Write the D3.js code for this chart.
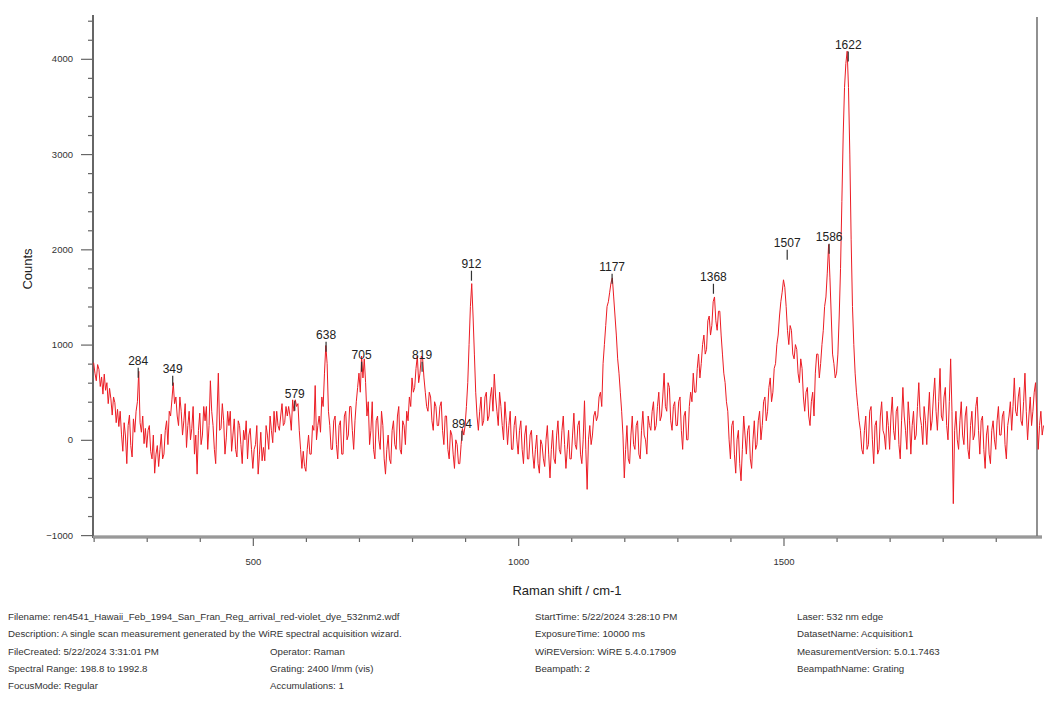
<!DOCTYPE html>
<html>
<head>
<meta charset="utf-8">
<script src="https://cdn.jsdelivr.net/npm/d3@7"></script>
<style>
  body { margin: 0; background: #fff; }
  svg { font-family: "Liberation Sans", Arial, sans-serif; }
  .axis path, .axis line { stroke: #666; }
  .axis text { fill: #333; font-size: 9.5px; }
  .axis-label { fill: #222; font-size: 13px; }
  .peak-label { fill: #222; font-size: 12px; }
  .info { fill: #333; font-size: 9.7px; }
</style>
</head>
<body>
<div id="chart"></div>
<script>

// Raman shift grid (cm-1): first point and spacing
var shiftStart = 200;
var shiftStep = 2.5;

// Counts, one value every 2.5 cm-1 from 200 to 1990
var counts = [
  810, 700, 620, 790, 740, 560, 660, 480, 690, 520, 600, 380, 540, 430, 260, 450, 390, 180, 320, 140,                  // 200
  300, 60, -120, 180, 40, -250, 150, 260, -60, -180, 220, 80, 300, 400, 720, 180, 80, 250, -40, 120,                    // 250
  -80, 100, 150, -120, -200, 50, -350, -150, -60, -280, -100, 60, -200, -150, 100, 200, -50, 300, 250, 420,             // 300
  600, 380, 450, 250, 150, 450, 300, 50, 200, 380, -80, 150, 300, 0, 120, 350, -150, 50, -360, 100,                     // 350
  280, -50, 50, 350, 200, 350, -100, 150, 620, 300, 150, -100, -250, 250, 700, 100, 120, 380, 200, -150,               // 400
  20, 300, 150, 300, -120, 50, 220, -100, -180, 200, 150, -50, -250, 100, 0, 200, -200, 50, 120, -100,                  // 450
  -300, -100, -50, 150, -360, -150, 80, -220, -80, -220, 150, 50, -100, 250, 100, -30, 300, 80, 300, 150,               // 500
  100, 250, 380, 150, 180, 350, 250, 350, 250, 100, 420, 300, 420, 350, 380, 100, -100, -300, -120, -280,               // 550
  -330, -100, 50, -150, -150, 150, 100, 570, 0, 150, 250, 80, 450, 350, 700, 990, 800, 300, 150, -100,                  // 600
  -100, 200, 250, -50, -200, 150, 200, -150, -150, 250, 300, 0, 50, 350, 350, 100, -100, 200, 400, 550,                 // 650
  700, 500, 880, 650, 850, 600, 250, 400, -50, 100, 400, -100, -200, 200, 250, 0, -100, 300, 150, -200,                 // 700
  -360, -100, 50, -200, -250, 100, 200, -50, -100, 250, 350, -100, -150, 200, 150, -50, 300, 200, 450, 350,             // 750
  650, 500, 550, 750, 880, 600, 700, 880, 850, 650, 500, 350, 300, 500, 450, 200, 100, 400, 350, 150,                   // 800
  150, 350, 400, 100, -50, 250, 250, -100, -200, 100, 50, -150, -300, 0, -50, -250, -250, -50, 120, 50,                 // 850
  150, 350, 600, 1000, 1400, 1640, 1300, 900, 500, 250, 100, 300, 450, 150, 200, 450, 500, 200, 250, 450,               // 900
  550, 300, 690, 450, 300, 150, 500, 350, 150, 0, 400, 200, -50, 150, 300, -100, -100, 150, 250, 0,                     // 950
  -150, 100, 200, -100, -250, 50, 150, -200, -200, 50, 100, -150, -300, -100, 50, -250, -350, 0, -50, -200,             // 1000
  -280, 0, 150, -150, -400, -100, 100, -200, -250, 50, 200, -100, -150, 100, 250, -50, -300, -100, 100, -200,           // 1050
  -200, 50, 280, -50, -100, 150, 200, -150, -250, 0, 410, -100, -520, 0, 150, -50, 50, 250, 300, 200,                   // 1100
  250, 450, 500, 350, 800, 1000, 1200, 1400, 1450, 1550, 1650, 1700, 1500, 1300, 1100, 850, 700, 500, 300, 50,          // 1150
  -400, -100, 150, -200, -250, 50, 250, -50, -100, 150, 200, -150, -200, 100, 300, 50, 0, -150, 250, 150,               // 1200
  100, 300, 400, 100, 150, 350, 500, 200, 250, 450, 700, 350, 300, 600, 550, 200, 100, 350, 400, 150,                   // 1250
  150, 400, 450, 100, -100, 250, 300, 0, 0, 350, 500, 400, 700, 500, 500, 750, 900, 650, 800, 1000,                     // 1300
  1100, 900, 950, 1250, 1300, 1100, 1200, 1450, 1500, 1250, 1150, 1350, 1350, 1100, 900, 700, 600, 400, 300, 0,         // 1350
  -200, 150, 200, -150, -350, 0, 100, -250, -430, -100, 250, 50, -150, 100, 150, -200, -300, 0, 200, -100,              // 1400
  -50, 200, 300, 0, 150, 400, 450, 200, 300, 550, 650, 400, 500, 750, 800, 1000, 1100, 1300, 1450, 1550,                // 1450
  1680, 1600, 1400, 1150, 1000, 1200, 1150, 900, 850, 1000, 950, 700, 600, 850, 750, 450, 300, 500, 550, 250,           // 1500
  150, 400, 500, 250, 700, 900, 900, 650, 800, 1000, 1150, 1400, 1500, 1750, 2050, 1700, 1300, 900, 800, 650,           // 1550
  700, 900, 1300, 1800, 2500, 3200, 3700, 3950, 4080, 3700, 3000, 2100, 1400, 1000, 700, 500, 350, 200, 100, -100,      // 1600
  -150, 100, 250, -100, -50, 300, 350, 0, -250, 150, 200, -150, -100, 250, 400, 100, 50, -100, 300, 150,                // 1650
  -100, 250, 450, 100, 0, 300, 350, -50, -200, 200, 550, 250, 100, -100, 400, 200, -150, 150, 300, 0,                   // 1700
  50, 350, 600, 250, 150, -50, 350, 200, -50, 250, 500, 100, 200, 450, 650, 300, 100, 400, 750, 250,                    // 1750
  200, 450, 550, 150, 0, 400, 850, 300, -670, 100, 300, 0, -100, 200, 400, 50, -50, 250, 350, -100,                     // 1800
  -200, 150, 300, 0, 50, 350, 450, 100, -150, 200, 250, -100, -300, 50, 150, -150, -250, 100, 200, 0,                   // 1850
  -100, 200, 350, 50, 50, 250, 300, -50, -200, 150, 250, 400, 100, 350, 650, 300, 250, 450, 550, 200,                   // 1900
  150, 400, 700, 300, 0, 250, 450, 150, 300, 500, 600, 250, -100, 150, 300, 50, 150                                     // 1950-1990
];

// Labelled peaks and the height (counts) at which each label sits
var peakShifts = [284, 349, 579, 638, 705, 819, 894, 912, 1177, 1368, 1507, 1586, 1622];
var peakLabelCounts = [830, 746, 483, 1103, 893, 893, 168, 1849, 1817, 1712, 2069, 2132, 4149];

// Axis ticks
var xMajorTicks = [500, 1000, 1500];
var yMajorTicks = [-1000, 0, 1000, 2000, 3000, 4000];

// Acquisition info printed under the chart
var infoCol1 = [
  "Filename: ren4541_Hawaii_Feb_1994_San_Fran_Reg_arrival_red-violet_dye_532nm2.wdf",
  "Description: A single scan measurement generated by the WiRE spectral acquisition wizard.",
  "FileCreated: 5/22/2024 3:31:01 PM",
  "Spectral Range: 198.8 to 1992.8",
  "FocusMode: Regular"
];
var infoCol2 = ["", "", "Operator: Raman", "Grating: 2400 l/mm (vis)", "Accumulations: 1"];
var infoCol3 = ["StartTime: 5/22/2024 3:28:10 PM", "ExposureTime: 10000 ms", "WiREVersion: WiRE 5.4.0.17909", "Beampath: 2"];
var infoCol4 = ["Laser: 532 nm edge", "DatasetName: Acquisition1", "MeasurementVersion: 5.0.1.7463", "BeampathName: Grating"];


SpectrumChart = function(_parentElement){
  var vis = this;
  vis.parentElement = _parentElement;
  vis.data = counts.map(function(c, i){
    return { shift: shiftStart + i * shiftStep, counts: c };
  });
  vis.initVis();
};

SpectrumChart.prototype.initVis = function(){
  var vis = this;

  vis.width = 1053;
  vis.height = 704;
  vis.plot = { left: 93, right: 1045, top: 15, bottom: 537 };

  vis.svg = d3.select("#" + vis.parentElement).append("svg")
    .attr("width", vis.width)
    .attr("height", vis.height);

  vis.x = d3.scaleLinear()
    .domain([198.8, 1992.8])
    .range([vis.plot.left, vis.plot.right]);

  vis.y = d3.scaleLinear()
    .domain([-1020, 4460])
    .range([vis.plot.bottom, vis.plot.top]);

  vis.updateVis();
};

SpectrumChart.prototype.updateVis = function(){
  var vis = this;
  var p = vis.plot;

  // minor ticks first, major ticks with labels on top
  var xMinor = d3.range(200, 2000, 100).filter(function(d){ return d % 500 !== 0; });
  var yMinor = d3.range(-800, 4500, 200).filter(function(d){ return d % 1000 !== 0; });

  vis.svg.append("g")
    .attr("class", "axis")
    .attr("transform", "translate(0," + p.bottom + ")")
    .call(d3.axisBottom(vis.x).tickValues(xMinor).tickSize(5).tickFormat(""))
    .select(".domain").remove();

  vis.svg.append("g")
    .attr("class", "axis x-axis")
    .attr("transform", "translate(0," + p.bottom + ")")
    .call(d3.axisBottom(vis.x).tickValues(xMajorTicks).tickSize(9).tickPadding(12).tickFormat(d3.format("d")))
    .select(".domain").remove();

  vis.svg.append("g")
    .attr("class", "axis")
    .attr("transform", "translate(" + p.left + ",0)")
    .call(d3.axisLeft(vis.y).tickValues(yMinor).tickSize(5).tickFormat(""))
    .select(".domain").remove();

  vis.svg.append("g")
    .attr("class", "axis y-axis")
    .attr("transform", "translate(" + p.left + ",0)")
    .call(d3.axisLeft(vis.y).tickValues(yMajorTicks).tickSize(12).tickPadding(8).tickFormat(d3.format("d")))
    .select(".domain").remove();

  vis.svg.selectAll(".axis line").attr("stroke-width", 1.2);

  // frame lines
  vis.svg.append("line")
    .attr("x1", p.left).attr("x2", p.left)
    .attr("y1", p.top).attr("y2", p.bottom + 1)
    .attr("stroke", "#666").attr("stroke-width", 2);

  vis.svg.append("line")
    .attr("x1", p.right - 8).attr("x2", p.right - 8)
    .attr("y1", p.top + 2).attr("y2", p.bottom)
    .attr("stroke", "#555").attr("stroke-width", 1.3);

  vis.svg.append("line")
    .attr("x1", p.left).attr("x2", p.right - 3)
    .attr("y1", p.bottom).attr("y2", p.bottom)
    .attr("stroke", "#777").attr("stroke-width", 3);

  vis.svg.append("line")
    .attr("x1", p.left).attr("x2", p.right - 3)
    .attr("y1", p.bottom).attr("y2", p.bottom)
    .attr("stroke", "#ccc").attr("stroke-width", 0.8);

  // spectrum
  var line = d3.line()
    .x(function(d){ return vis.x(d.shift); })
    .y(function(d){ return vis.y(d.counts); });

  vis.svg.append("path")
    .datum(vis.data)
    .attr("fill", "none")
    .attr("stroke", "#ec1c24")
    .attr("stroke-width", 1)
    .attr("stroke-linejoin", "round")
    .attr("d", line);

  // peak labels
  var peaks = vis.svg.selectAll(".peak")
    .data(peakShifts)
    .enter().append("g")
    .attr("class", "peak")
    .attr("transform", function(d, i){
      return "translate(" + vis.x(d) + "," + vis.y(peakLabelCounts[i]) + ")";
    });

  peaks.append("text")
    .attr("class", "peak-label")
    .attr("text-anchor", "middle")
    .attr("dy", "0.35em")
    .text(function(d){ return d; });

  peaks.append("line")
    .attr("y1", 7).attr("y2", 17)
    .attr("stroke", "#333").attr("stroke-width", 1.2);

  // axis titles
  vis.svg.append("text")
    .attr("class", "axis-label")
    .attr("text-anchor", "middle")
    .attr("transform", "translate(567,595)")
    .text("Raman shift / cm-1");

  vis.svg.append("text")
    .attr("class", "axis-label")
    .attr("text-anchor", "middle")
    .attr("transform", "translate(32,269)rotate(-90)")
    .text("Counts");

  // info block
  var cols = [
    { x: 8, lines: infoCol1 },
    { x: 270, lines: infoCol2 },
    { x: 535, lines: infoCol3 },
    { x: 797, lines: infoCol4 }
  ];

  cols.forEach(function(col){
    vis.svg.selectAll(null)
      .data(col.lines)
      .enter().append("text")
      .attr("class", "info")
      .attr("x", col.x)
      .attr("y", function(d, i){ return 620 + i * 17.3; })
      .text(function(d){ return d; });
  });
};

var chart = new SpectrumChart("chart");

</script>
</body>
</html>
